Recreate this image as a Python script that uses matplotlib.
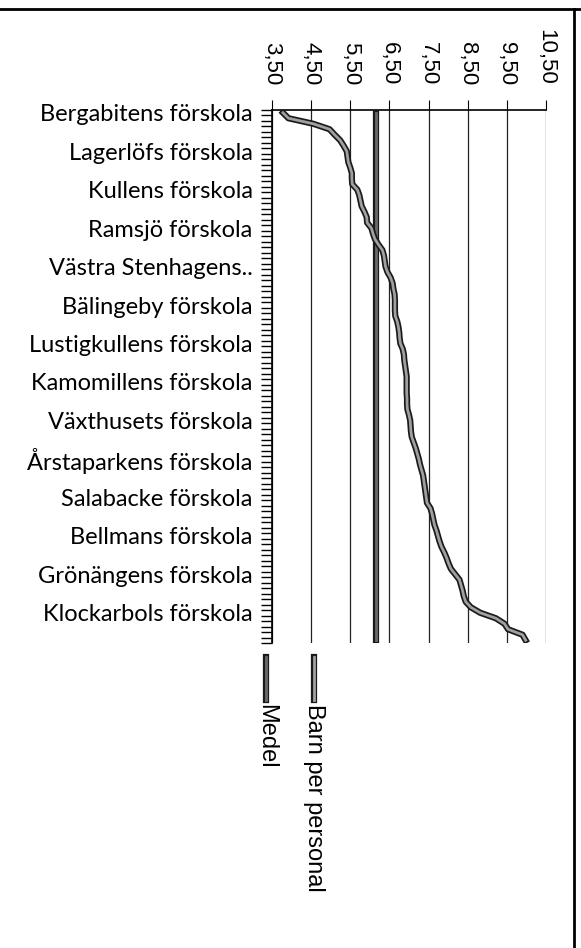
import numpy as np
import matplotlib
matplotlib.use("Agg")
import matplotlib.pyplot as plt
import matplotlib.patheffects as pe
from matplotlib.lines import Line2D
from matplotlib.ticker import FixedLocator, FuncFormatter

# every 7th school gets a label on the category axis
schools = ["Bergabitens förskola", "Lagerlöfs förskola", "Kullens förskola",
           "Ramsjö förskola", "Västra Stenhagens..", "Bälingeby förskola",
           "Lustigkullens förskola", "Kamomillens förskola", "Växthusets förskola",
           "Årstaparkens förskola", "Salabacke förskola", "Bellmans förskola",
           "Grönängens förskola", "Klockarbols förskola"]
label_every = 7

# barn per personal, sorted, one value per förskola (97 st)
barn_per_personal = [
    3.78, 3.92, 4.55, 4.97, 5.10, 5.24, 5.33, 5.41, 5.43, 5.45,
    5.50, 5.54, 5.54, 5.55, 5.68, 5.73, 5.76, 5.79, 5.86, 5.92,
    5.93, 6.04, 6.08, 6.13, 6.22, 6.32, 6.36, 6.38, 6.40, 6.45,
    6.53, 6.58, 6.60, 6.63, 6.64, 6.64, 6.64, 6.65, 6.70, 6.73,
    6.75, 6.76, 6.78, 6.84, 6.87, 6.88, 6.90, 6.92, 6.94, 6.94,
    6.94, 6.94, 6.95, 6.95, 6.96, 7.00, 7.03, 7.04, 7.05, 7.07,
    7.12, 7.17, 7.21, 7.25, 7.28, 7.32, 7.36, 7.38, 7.40, 7.42,
    7.44, 7.46, 7.55, 7.59, 7.62, 7.65, 7.70, 7.74, 7.78, 7.83,
    7.90, 7.96, 8.01, 8.07, 8.18, 8.29, 8.33, 8.37, 8.40, 8.45,
    8.58, 8.82, 9.22, 9.44, 9.53, 9.90, 9.98]
medel = 6.16

value_ticks = [3.5, 4.5, 5.5, 6.5, 7.5, 8.5, 9.5, 10.5]

n = len(barn_per_personal)
pos = np.arange(n)

fig = plt.figure(figsize=(5.81, 9.48), dpi=100)
ax = fig.add_axes([272/581, 1-643/948, 274/581, 533/948])

# double-line look of the scanned excel chart
ax.plot(barn_per_personal, pos, color="#a0a0a0", lw=2.0,
        path_effects=[pe.Stroke(linewidth=4.5, foreground="#1a1a1a"), pe.Normal()], zorder=4)
ax.plot([medel]*n, pos, color="#6a6a6a", lw=2.0,
        path_effects=[pe.Stroke(linewidth=4.5, foreground="#1a1a1a"), pe.Normal()], zorder=3)

ax.set_xlim(value_ticks[0], value_ticks[-1])
ax.set_ylim(n-0.5, -0.5)

# value axis on top, labels turned
ax.xaxis.tick_top()
ax.xaxis.set_major_locator(FixedLocator(value_ticks))
ax.xaxis.set_major_formatter(FuncFormatter(lambda v, p: f"{v:.2f}".replace(".", ",")))
ax.tick_params(axis="x", which="major", direction="out", length=7, width=0.8,
               pad=11, labelsize=16, labelrotation=270)
for t in ax.get_xticklabels():
    t.set_fontfamily("Liberation Sans")
    t.set_verticalalignment("bottom")
    t.set_horizontalalignment("center")
ax.grid(axis="x", color="#222222", lw=0.9)

# category axis: ticks between categories, labels every 7th
ax.yaxis.set_major_locator(FixedLocator(pos[::label_every][:len(schools)]))
ax.set_yticklabels(schools)
ax.yaxis.set_minor_locator(FixedLocator(np.arange(n+1)-0.5))
ax.tick_params(axis="y", which="major", length=0, pad=14, labelsize=17)
ax.tick_params(axis="y", which="minor", direction="out", length=8, width=1.0)
for t in ax.get_yticklabels():
    t.set_fontfamily("Lato")

for s in ["bottom", "right"]:
    ax.spines[s].set_visible(False)
ax.spines["left"].set_linewidth(1.2)
ax.spines["top"].set_linewidth(1.2)

# legend drawn turned, like the scanned page
leg = [("Barn per personal", "#a0a0a0", 314), ("Medel", "#6a6a6a", 266)]
for name, col, xp in leg:
    ln = Line2D([xp/581, xp/581], [1-657/948, 1-700/948], transform=fig.transFigure,
                color=col, lw=2.0,
                path_effects=[pe.Stroke(linewidth=4.5, foreground="#1a1a1a"), pe.Normal()])
    fig.add_artist(ln)
    fig.text(xp/581, 1-704/948, name, rotation=270, ha="center", va="top",
             fontsize=17, family="Liberation Sans")

# page border
fig.add_artist(Line2D([0, 1], [1-9/948, 1-9/948], transform=fig.transFigure, color="black", lw=2))
fig.add_artist(Line2D([574/581, 574/581], [0, 1-9/948], transform=fig.transFigure, color="black", lw=2))

fig.savefig("out.png", dpi=100)
